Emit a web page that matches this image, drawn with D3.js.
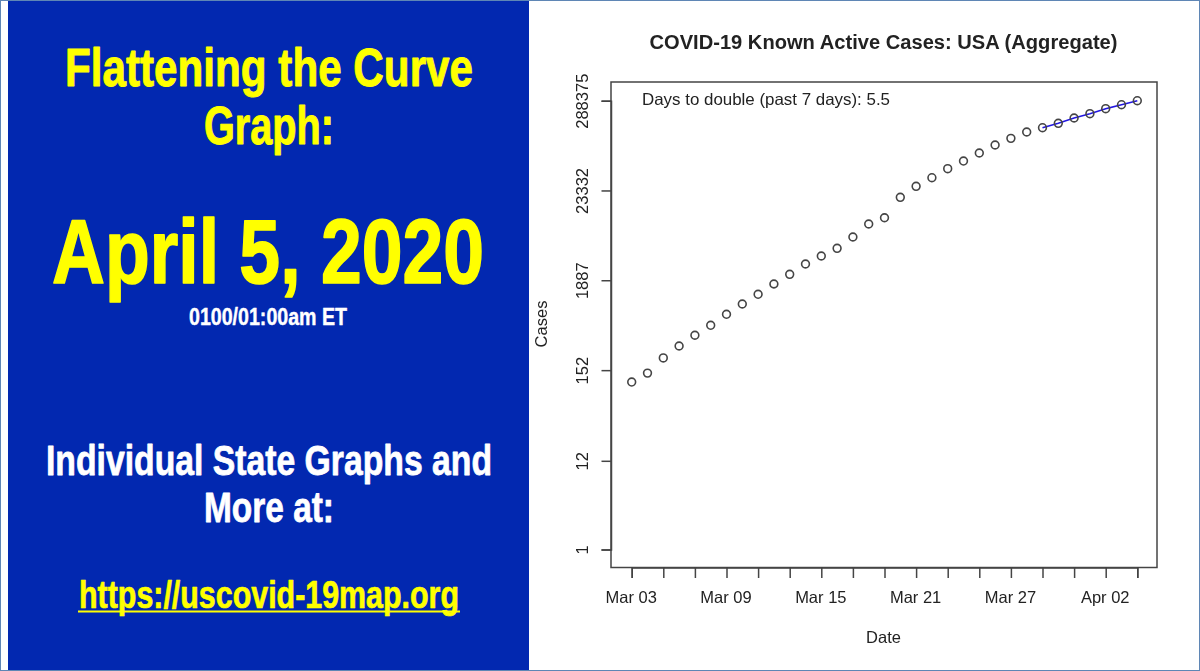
<!DOCTYPE html>
<html>
<head>
<meta charset="utf-8">
<script src="https://cdn.jsdelivr.net/npm/d3@7"></script>
<style>
html, body { margin: 0; padding: 0; background: #fff; overflow: hidden; }
svg { display: block; }
.banner { font-family: "Liberation Sans Narrow", "Liberation Sans", sans-serif; font-weight: 700; text-anchor: middle; stroke-linejoin: round; }
.plot text { font-family: "Liberation Sans", Arial, sans-serif; fill: #222; }
</style>
</head>
<body>
<script>
// values (log axis, one point per day)
var dates = ["2020-03-03","2020-03-04","2020-03-05","2020-03-06","2020-03-07","2020-03-08","2020-03-09","2020-03-10","2020-03-11","2020-03-12","2020-03-13","2020-03-14","2020-03-15","2020-03-16","2020-03-17","2020-03-18","2020-03-19","2020-03-20","2020-03-21","2020-03-22","2020-03-23","2020-03-24","2020-03-25","2020-03-26","2020-03-27","2020-03-28","2020-03-29","2020-03-30","2020-03-31","2020-04-01","2020-04-02","2020-04-03","2020-04-04"];
var activeCases = [109,140,214,299,404,534,727,970,1273,1698,2228,2973,3721,4615,6339,9120,10870,19260,26200,33350,42950,53200,66680,83370,100500,120000,135300,153100,177500,200400,230500,257800,288375];
var yTicks = [1,12,152,1887,23332,288375];
var xTicks = ["2020-03-03","2020-03-05","2020-03-07","2020-03-09","2020-03-11","2020-03-13","2020-03-15","2020-03-17","2020-03-19","2020-03-21","2020-03-23","2020-03-25","2020-03-27","2020-03-29","2020-03-31","2020-04-02","2020-04-04"];
var xLabelled = ["2020-03-03","2020-03-09","2020-03-15","2020-03-21","2020-03-27","2020-04-02"];
var trendDays = 7;

var w = 1200;
var h = 671;

var svg = d3.select("body").append("svg")
    .attr("width", w)
    .attr("height", h);

// the reference is a soft jpeg, a tiny blur gets the plot closer
svg.append("defs").append("filter").attr("id", "soft")
    .append("feGaussianBlur").attr("stdDeviation", 0.35);

svg.append("rect").attr("x", 0.5).attr("y", 0.5).attr("width", w - 1).attr("height", h - 1)
    .attr("fill", "#fff").attr("stroke", "#5f86b5");

// left banner
svg.append("rect").attr("x", 8).attr("y", 1).attr("width", 521).attr("height", 669).attr("fill", "#0228b0");

var banner = [
    {t: "Flattening the Curve", cx: 269, y: 86, size: 54, len: 408, fill: "#ffff00"},
    {t: "Graph:", cx: 269, y: 144, size: 54, len: 130, fill: "#ffff00"},
    {t: "April 5, 2020", cx: 268, y: 283, size: 90, len: 432, fill: "#ffff00"},
    {t: "0100/01:00am ET", cx: 268, y: 325, size: 23, len: 158, fill: "#ffffff"},
    {t: "Individual State Graphs and", cx: 269, y: 475, size: 43, len: 446, fill: "#ffffff"},
    {t: "More at:", cx: 269, y: 522, size: 43, len: 130, fill: "#ffffff"},
    {t: "https://uscovid-19map.org", cx: 269, y: 608, size: 39, len: 380, fill: "#ffff00"}
];

svg.selectAll("text.banner").data(banner).enter().append("text")
    .attr("class", "banner")
    .attr("x", function(d) { return d.cx; })
    .attr("y", function(d) { return d.y; })
    .attr("font-size", function(d) { return d.size; })
    .attr("textLength", function(d) { return d.len; })
    .attr("lengthAdjust", "spacingAndGlyphs")
    .attr("fill", function(d) { return d.fill; })
    .attr("stroke", function(d) { return d.fill; })
    .attr("stroke-width", function(d) { return d.size * 0.018; })
    .text(function(d) { return d.t; });

svg.append("line").attr("x1", 78).attr("x2", 460).attr("y1", 611.5).attr("y2", 611.5)
    .attr("stroke", "#ffff00").attr("stroke-width", 2);

// plot
var parse = d3.utcParse("%Y-%m-%d");
var fmt = d3.utcFormat("%b %d");
var points = dates.map(function(d, i) { return {date: parse(d), value: activeCases[i]}; });

var xScale = d3.scaleUtc().domain([parse(dates[0]), parse(dates[dates.length - 1])]).range([631.7, 1137.3]);
var yScale = d3.scaleLog().domain([1, 288375]).range([549.5, 100.7]);

var plot = svg.append("g").attr("class", "plot").attr("filter", "url(#soft)");
var ink = "#444";

plot.append("rect").attr("x", 611).attr("y", 82).attr("width", 546).attr("height", 485.5)
    .attr("fill", "none").attr("stroke", ink).attr("stroke-width", 1.5);

var yAxis = plot.append("g").attr("transform", "translate(611,0)")
    .call(d3.axisLeft(yScale).tickValues(yTicks).tickSize(9.5).tickFormat(function(d) { return d; }));
yAxis.select(".domain").attr("stroke", ink).attr("stroke-width", 1.5);
yAxis.selectAll(".tick line").attr("stroke", ink).attr("stroke-width", 1.5);
yAxis.selectAll(".tick text")
    .attr("font-size", 16.5).attr("font-family", null)
    .attr("transform", "translate(-23,0) rotate(-90)")
    .attr("x", 0).attr("y", 0).attr("dy", 0)
    .attr("text-anchor", "middle");

var xAxis = plot.append("g").attr("transform", "translate(0,567.5)")
    .call(d3.axisBottom(xScale).tickValues(xTicks.map(parse)).tickSize(10.5).tickFormat(function(d) {
        return xLabelled.indexOf(d3.utcFormat("%Y-%m-%d")(d)) >= 0 ? fmt(d) : "";
    }));
xAxis.select(".domain").attr("stroke", ink).attr("stroke-width", 1.5);
xAxis.selectAll(".tick line").attr("stroke", ink).attr("stroke-width", 1.5);
xAxis.selectAll(".tick text")
    .attr("font-size", 16.5).attr("font-family", null)
    .attr("y", 35.5).attr("dy", 0)
    .attr("dx", -1);

// blue line over the past 7 days
var line = d3.line()
    .x(function(d) { return xScale(d.date); })
    .y(function(d) { return yScale(d.value); });

plot.append("path").datum(points.slice(-trendDays))
    .attr("d", line)
    .attr("fill", "none")
    .attr("stroke", "#2418e0")
    .attr("stroke-width", 1.6);

plot.selectAll("circle").data(points).enter().append("circle")
    .attr("cx", function(d) { return xScale(d.date); })
    .attr("cy", function(d) { return yScale(d.value); })
    .attr("r", 3.9)
    .attr("fill", "none")
    .attr("stroke", ink)
    .attr("stroke-width", 1.6);

plot.append("text").attr("x", 883.5).attr("y", 49).attr("text-anchor", "middle")
    .attr("font-size", 19.5).attr("font-weight", 700).attr("textLength", 468).attr("lengthAdjust", "spacingAndGlyphs")
    .text("COVID-19 Known Active Cases: USA (Aggregate)");
plot.append("text").attr("x", 642).attr("y", 105).attr("font-size", 16.5)
    .attr("textLength", 248).attr("lengthAdjust", "spacingAndGlyphs")
    .text("Days to double (past 7 days): 5.5");
plot.append("text").attr("x", 883.5).attr("y", 643).attr("text-anchor", "middle").attr("font-size", 16.5)
    .text("Date");
plot.append("text").attr("transform", "translate(547,324) rotate(-90)").attr("text-anchor", "middle").attr("font-size", 16.5)
    .text("Cases");
</script>
</body>
</html>
